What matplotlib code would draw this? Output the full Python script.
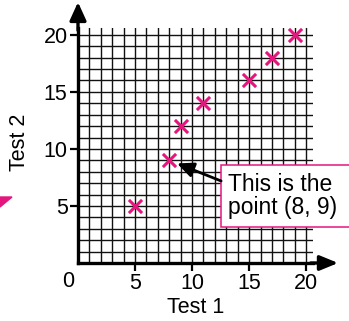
import matplotlib.pyplot as plt
from matplotlib.ticker import MultipleLocator
from matplotlib.patches import Polygon, Rectangle

# Scores for each student
test1 = [5, 8, 9, 11, 15, 17, 19]
test2 = [5, 9, 12, 14, 16, 18, 20]
ticks = [5, 10, 15, 20]
note = "This is the\npoint (8, 9)"
pink = '#e5157e'

plt.rcParams['font.family'] = ['Liberation Sans', 'DejaVu Sans']

fig = plt.figure(figsize=(3.49, 3.21), dpi=100)
ax = fig.add_axes([78 / 349, 58 / 321, 235 / 349, 235 / 321])
ax.set_xlim(0, 20.6)
ax.set_ylim(0, 20.6)

# Graph paper
ax.xaxis.set_minor_locator(MultipleLocator(1))
ax.yaxis.set_minor_locator(MultipleLocator(1))
ax.set_xticks(ticks)
ax.set_yticks(ticks)
ax.grid(which='both', color='#111111', lw=1.0)
ax.set_axisbelow(True)
ax.tick_params(which='minor', length=0)
ax.tick_params(which='major', length=6, width=1.6, labelsize=15.5, pad=1.5)

for s in ['top', 'right']:
    ax.spines[s].set_visible(False)
for s in ['left', 'bottom']:
    ax.spines[s].set_linewidth(2.4)

# Axis arrows
ax.annotate('', xy=(0, 1.11), xytext=(0, 0.99), xycoords='axes fraction',
            arrowprops=dict(arrowstyle='-|>,head_length=1.1,head_width=0.5',
                            color='black', lw=2.4, shrinkA=0, shrinkB=0))
ax.annotate('', xy=(1.107, 0), xytext=(0.99, 0), xycoords='axes fraction',
            arrowprops=dict(arrowstyle='-|>,head_length=1.1,head_width=0.45',
                            color='black', lw=2.4, shrinkA=0, shrinkB=0))

ax.scatter(test1, test2, marker='x', s=90, color=pink, linewidths=2.2, zorder=5)

ax.text(-0.015, -0.035, '0', transform=ax.transAxes, ha='right', va='top', fontsize=15.5)
ax.text(0.5, -0.19, 'Test 1', transform=ax.transAxes, ha='center', va='center', fontsize=15.5)
ax.text(-0.247, 0.515, 'Test 2', transform=ax.transAxes, ha='center', va='center',
        rotation=90, fontsize=15.5)

# Callout box
box = Rectangle((0.609, 0.153), 0.6, 0.264, transform=ax.transAxes, facecolor='white',
                edgecolor=pink, lw=1.1, clip_on=False, zorder=6)
ax.add_patch(box)
ax.text(0.638, 0.285, note, transform=ax.transAxes, ha='left', va='center',
        fontsize=16.5, linespacing=1.05, zorder=7)
ax.annotate('', xy=(8, 9), xytext=(0.609, 0.349), textcoords='axes fraction',
            arrowprops=dict(arrowstyle='-|>,head_length=1.0,head_width=0.45',
                            color='black', lw=2, shrinkA=0, shrinkB=6), zorder=7)

# little pink pointer on the left edge
fig.patches.append(Polygon([(0, 1 - 197 / 321), (12 / 349, 1 - 197 / 321), (0, 1 - 207 / 321)],
                           closed=True, transform=fig.transFigure, color=pink))

fig.savefig('out.png', dpi=100)
